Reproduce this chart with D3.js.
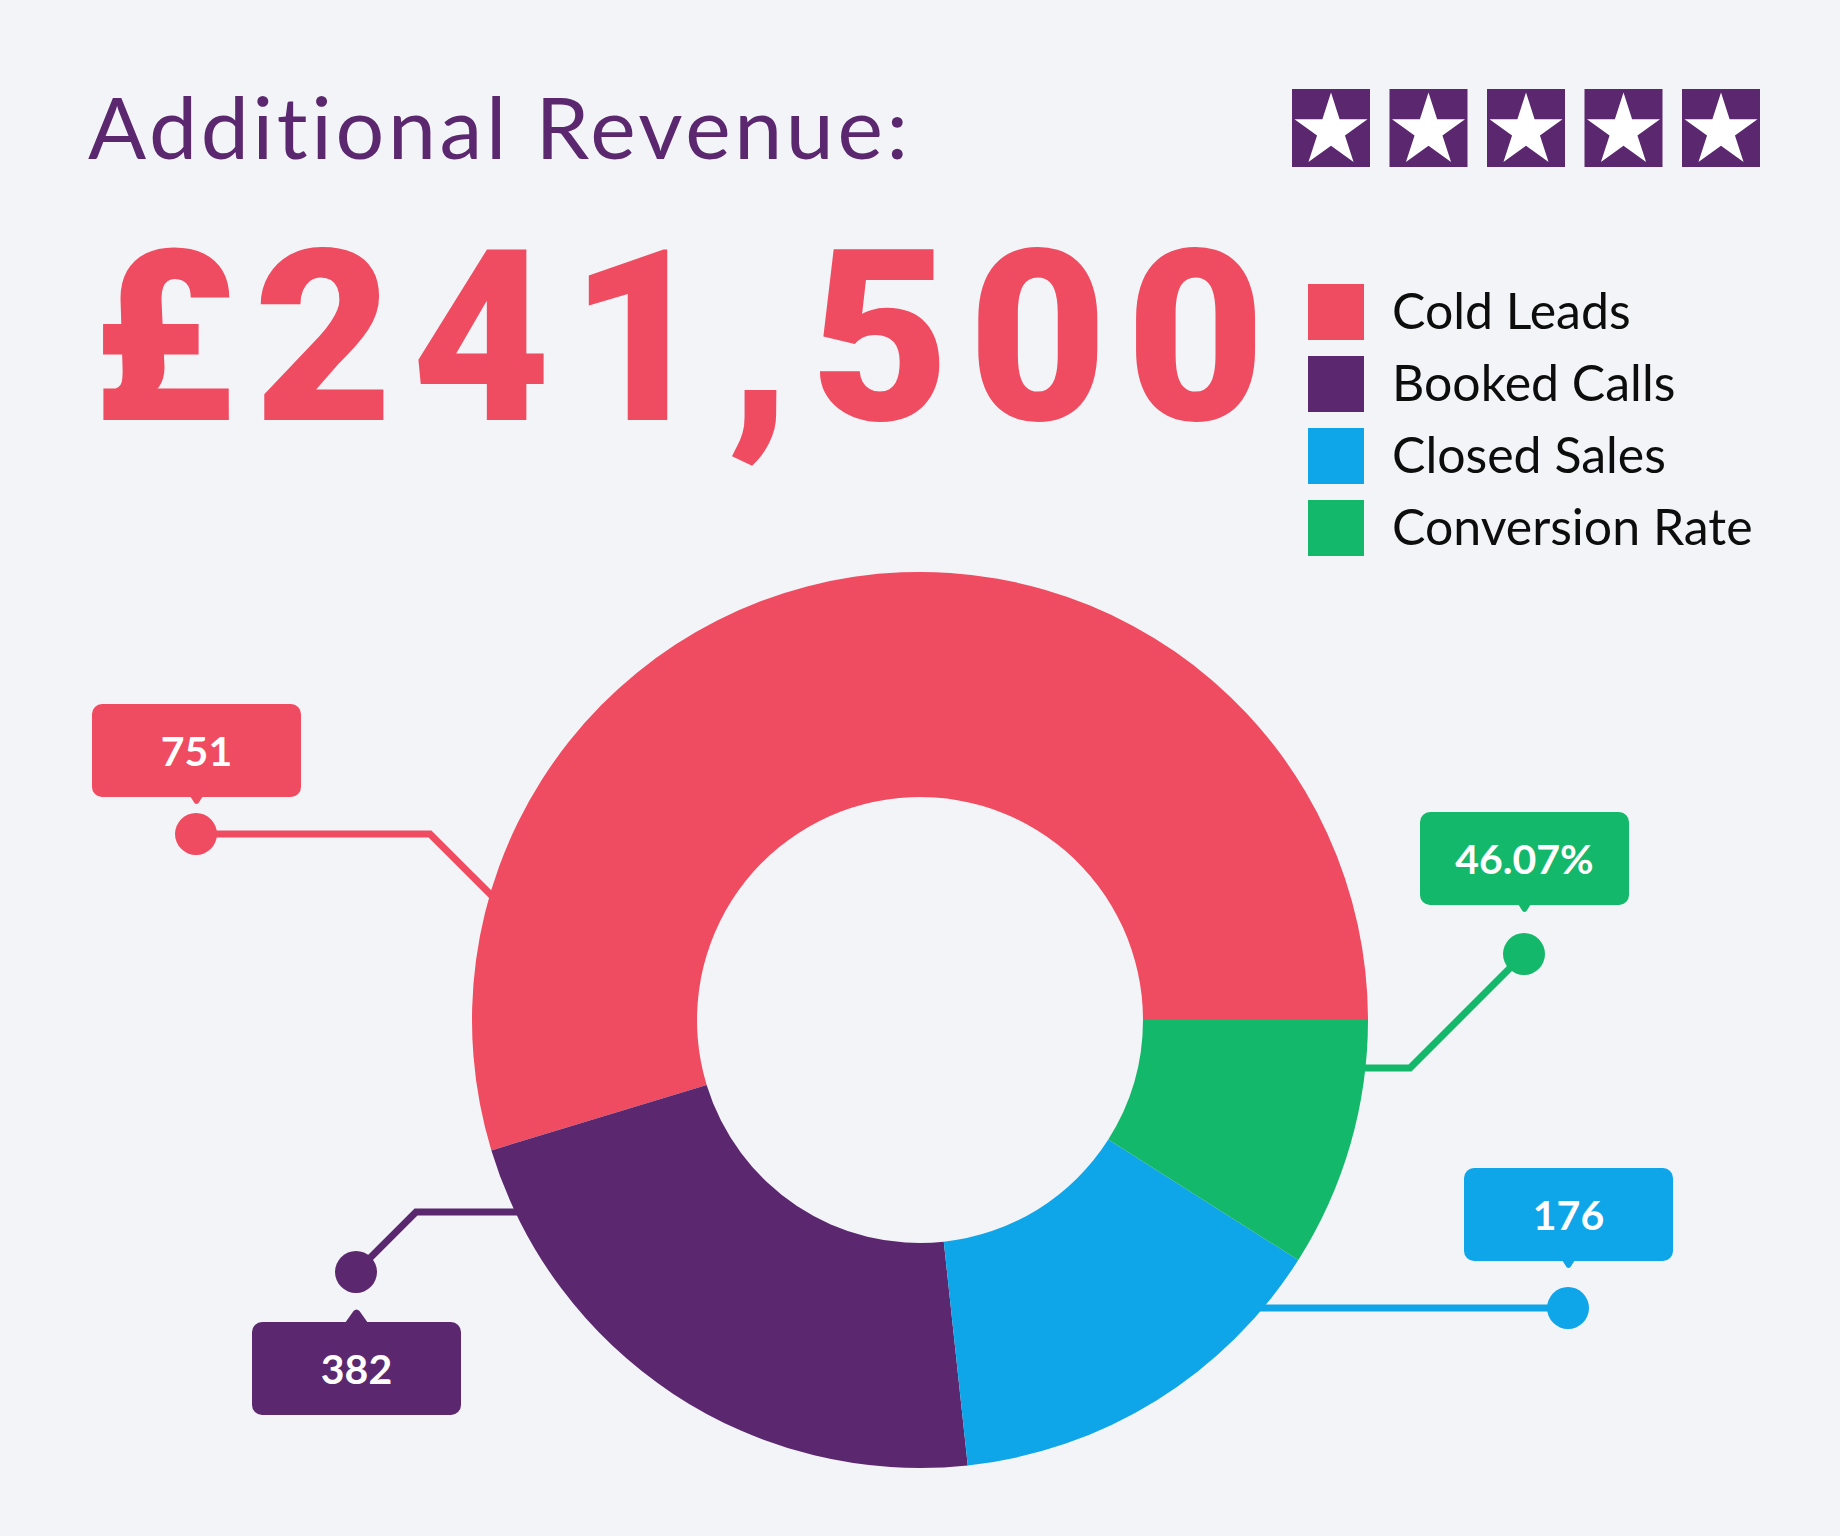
<!DOCTYPE html>
<html>
<head>
<meta charset="utf-8">
<script src="https://cdn.jsdelivr.net/npm/d3@7"></script>
<style>
  html, body { margin: 0; padding: 0; background: #f3f4f7; }
  svg { display: block; }
  text { font-variant-ligatures: none; font-feature-settings: "liga" 0, "clig" 0; }
</style>
</head>
<body>
<script>
// ---------- DATA ----------
const categories = ["Cold Leads", "Booked Calls", "Closed Sales", "Conversion Rate"];
const sliceShares = [54.7, 22.0, 14.3, 9.0];          // share of the ring (%)
const calloutLabels = ["751", "382", "176", "46.07%"];
const headline = "Additional Revenue:";
const revenueValue = 241500;
const starRating = 5;

// ---------- STYLE / LAYOUT ----------
const W = 1840, H = 1536;
const colors = ["#ef4b61", "#5b286f", "#0ea5e9", "#14b86a"];
const purple = "#5b286f";
const center = [920, 1020];
const outerR = 448, innerR = 223;

const calloutLayout = [
  { dot: [196, 834],  elbow: [430, 834],  dir: [1, 1],  box: [92, 704],   ptr: "down", ph: 8,  pw: 13 },
  { dot: [356, 1272], elbow: [416, 1212], dir: [1, 0],  box: [252, 1322], ptr: "up",   ph: 14, pw: 23 },
  { dot: [1568, 1308], elbow: null,       dir: [-1, 0], box: [1464, 1168], ptr: "down", ph: 8,  pw: 13 },
  { dot: [1524, 954], elbow: [1410, 1068], dir: [-1, 0], box: [1420, 812], ptr: "down", ph: 8,  pw: 13 }
];
const boxW = 209, boxH = 93, boxR = 10;

const svg = d3.select("body").append("svg")
  .attr("width", W).attr("height", H)
  .style("background", "#f3f4f7");

// ---------- HEADER ----------
svg.append("text")
  .attr("x", 88).attr("y", 159)
  .attr("font-family", "Lato, 'Noto Sans', sans-serif")
  .attr("font-size", 86)
  .attr("font-weight", 400)
  .attr("fill", purple)
  .attr("textLength", 820)
  .attr("lengthAdjust", "spacing")
  .text(headline);

svg.append("text")
  .attr("x", 91).attr("y", 420)
  .attr("font-family", "Roboto, 'DejaVu Sans', sans-serif")
  .attr("font-size", 240)
  .attr("font-weight", 900)
  .attr("fill", colors[0])
  .attr("textLength", 1174)
  .attr("lengthAdjust", "spacing")
  .text("£" + d3.format(",")(revenueValue));

// ---------- STARS ----------
const starX = d3.scaleLinear().domain([0, 4]).range([1292, 1682]);
const starG = svg.append("g").selectAll("g")
  .data(d3.range(starRating)).join("g")
  .attr("transform", i => `translate(${starX(i)},89)`);
starG.append("rect").attr("width", 78).attr("height", 78).attr("fill", purple);
starG.append("path")
  .attr("transform", "translate(39,42)")
  .attr("d", d3.symbol(d3.symbolStar, 1655))
  .attr("fill", "#ffffff");

// ---------- LEGEND ----------
const legY = d3.scaleBand().domain(categories).range([284, 284 + 72 * categories.length]);
const leg = svg.append("g").selectAll("g").data(categories).join("g")
  .attr("transform", d => `translate(1308,${legY(d)})`);
leg.append("rect").attr("width", 56).attr("height", 56)
  .attr("fill", (d, i) => colors[i]);
leg.append("text")
  .attr("x", 84).attr("y", 45)
  .attr("font-family", "Lato, 'Noto Sans', sans-serif")
  .attr("font-size", 50)
  .attr("fill", "#0d0d0d")
  .text(d => d);

// ---------- CALLOUT LINES (under the ring) ----------
function hitCircle(p, d) {
  const n = Math.hypot(d[0], d[1]);
  const ux = d[0] / n, uy = d[1] / n;
  const fx = p[0] - center[0], fy = p[1] - center[1];
  const b = fx * ux + fy * uy;
  const c = fx * fx + fy * fy - outerR * outerR;
  const t = -b - Math.sqrt(b * b - c);
  return [p[0] + ux * (t + 6), p[1] + uy * (t + 6)];
}
const lineGen = d3.line();
svg.append("g").selectAll("path").data(calloutLayout).join("path")
  .attr("d", c => {
    const pts = [c.dot];
    const start = c.elbow || c.dot;
    if (c.elbow) pts.push(c.elbow);
    pts.push(hitCircle(start, c.dir));
    return lineGen(pts);
  })
  .attr("fill", "none")
  .attr("stroke", (c, i) => colors[i])
  .attr("stroke-width", 7)
  .attr("stroke-linejoin", "miter");

// ---------- RING ----------
const pie = d3.pie().sort(null).startAngle(Math.PI * 2.5).endAngle(Math.PI * 0.5);
const arc = d3.arc().innerRadius(innerR).outerRadius(outerR);
svg.append("g").attr("transform", `translate(${center})`)
  .selectAll("path").data(pie(sliceShares)).join("path")
  .attr("d", arc)
  .attr("fill", (d, i) => colors[i]);

// ---------- DOTS & BOXES ----------
const cg = svg.append("g").selectAll("g").data(calloutLayout).join("g");
cg.append("circle")
  .attr("cx", c => c.dot[0]).attr("cy", c => c.dot[1]).attr("r", 21)
  .attr("fill", (c, i) => colors[i]);
cg.append("rect")
  .attr("x", c => c.box[0]).attr("y", c => c.box[1])
  .attr("width", boxW).attr("height", boxH).attr("rx", boxR)
  .attr("fill", (c, i) => colors[i]);
cg.append("path")
  .attr("d", c => {
    const cx = c.box[0] + boxW / 2;
    if (c.ptr === "down") {
      const y0 = c.box[1] + boxH - 1;
      return `M${cx - c.pw / 2},${y0} L${cx - 2},${y0 + c.ph - 1} Q${cx},${y0 + c.ph + 1} ${cx + 2},${y0 + c.ph - 1} L${cx + c.pw / 2},${y0} Z`;
    } else {
      const y0 = c.box[1] + 1;
      return `M${cx - c.pw / 2},${y0} L${cx - 3},${y0 - c.ph + 2} Q${cx},${y0 - c.ph - 1} ${cx + 3},${y0 - c.ph + 2} L${cx + c.pw / 2},${y0} Z`;
    }
  })
  .attr("fill", (c, i) => colors[i]);
cg.append("text")
  .attr("x", c => c.box[0] + boxW / 2)
  .attr("y", c => c.box[1] + boxH / 2 + 15)
  .attr("text-anchor", "middle")
  .attr("font-family", "Lato, 'Noto Sans', sans-serif")
  .attr("font-size", 41)
  .attr("font-weight", 700)
  .attr("fill", "#ffffff")
  .text((c, i) => calloutLabels[i]);
</script>
</body>
</html>
